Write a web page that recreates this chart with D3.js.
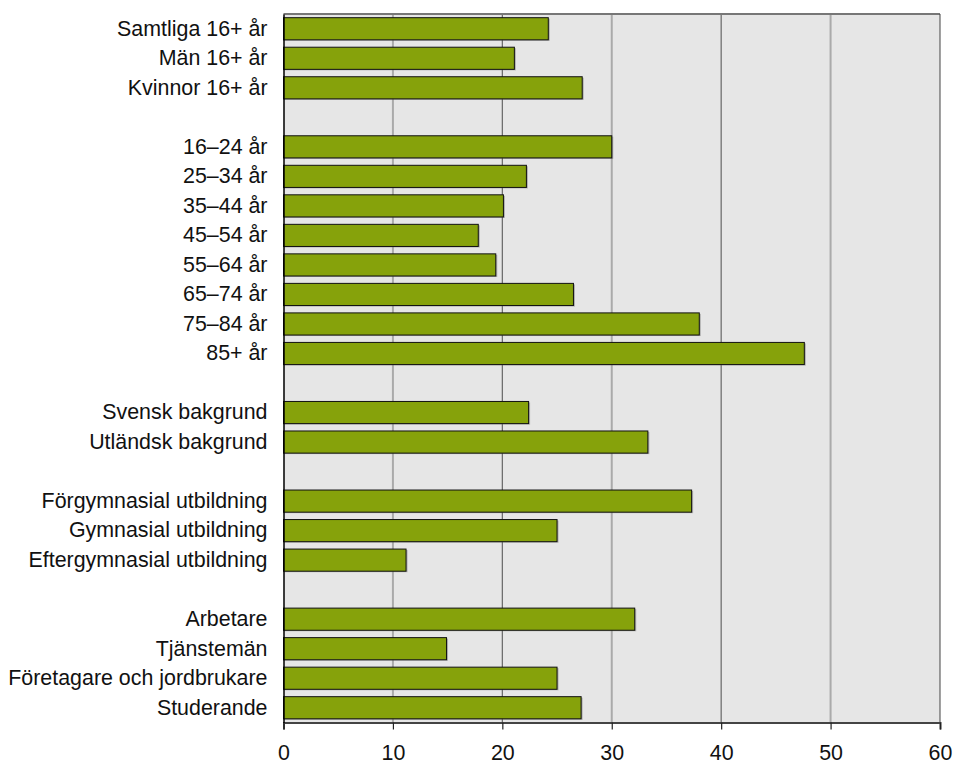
<!DOCTYPE html>
<html><head><meta charset="utf-8">
<script src="https://cdn.jsdelivr.net/npm/d3@7"></script>
<style>body{margin:0;background:#fff;}svg{display:block;font-family:"Liberation Sans",Arial,sans-serif;}</style>
</head><body><div id="chart"></div>
<script>
const categories = ["Samtliga 16+ år","Män 16+ år","Kvinnor 16+ år","",
 "16–24 år","25–34 år","35–44 år","45–54 år","55–64 år","65–74 år","75–84 år","85+ år","",
 "Svensk bakgrund","Utländsk bakgrund","",
 "Förgymnasial utbildning","Gymnasial utbildning","Eftergymnasial utbildning","",
 "Arbetare","Tjänstemän","Företagare och jordbrukare","Studerande"];
const values = [24.2,21.1,27.3,null,
 30.0,22.2,20.1,17.8,19.4,26.5,38.0,47.6,null,
 22.4,33.3,null,
 37.3,25.0,11.2,null,
 32.1,14.9,25.0,27.2];
const xTicks = [0,10,20,30,40,50,60];

const W=955,H=764, m={l:283.5,r:15,t:14,b:41.5};
const iw=W-m.l-m.r, ih=H-m.t-m.b;
const keys = categories.map((c,i)=>i);
const svg=d3.select("#chart").append("svg").attr("width",W).attr("height",H);
const g=svg.append("g").attr("transform",`translate(${m.l},${m.t})`);
const x=d3.scaleLinear().domain([0,60]).range([0,iw]);
const y=d3.scaleBand().domain(keys).range([0,ih]).paddingInner(0.25).paddingOuter(0.125);

g.append("rect").attr("width",iw).attr("height",ih).attr("fill","#e6e6e6");
g.selectAll(".grid").data(xTicks.slice(1,-1)).join("line")
 .attr("x1",d=>x(d)).attr("x2",d=>x(d)).attr("y1",0).attr("y2",ih)
 .attr("stroke",(d,i)=>i%2===0?"#aaaaaa":"#666666")
 .attr("stroke-width",(d,i)=>i%2===0?2:1.2);
// top & right border
g.append("line").attr("x1",0).attr("x2",iw).attr("y1",0).attr("y2",0).attr("stroke","#777").attr("stroke-width",2);
g.append("line").attr("x1",iw).attr("x2",iw).attr("y1",0).attr("y2",ih).attr("stroke","#444").attr("stroke-width",1);

const data = keys.filter(i=>values[i]!=null).map(i=>({k:i,v:values[i]}));
g.selectAll(".shadow").data(data).join("rect")
 .attr("x",0).attr("y",d=>y(d.k)+1).attr("width",d=>x(d.v)+1.5).attr("height",y.bandwidth())
 .attr("fill","#6a6a6a").attr("opacity",0.45);
g.selectAll(".bar").data(data).join("rect")
 .attr("x",0).attr("y",d=>y(d.k)).attr("width",d=>x(d.v)).attr("height",y.bandwidth())
 .attr("fill","#86a20b").attr("stroke","#111").attr("stroke-width",1);

// bottom axis
const xa=g.append("g").attr("transform",`translate(0,${ih})`)
 .call(d3.axisBottom(x).tickValues(xTicks).tickSize(7).tickPadding(15).tickFormat(d3.format("d")));
xa.select(".domain").attr("stroke","#444").attr("stroke-width",2);
xa.selectAll(".tick line").attr("stroke","#222").attr("stroke-width",1.2);
xa.selectAll("text").attr("font-size",21.4).attr("fill","#111").attr("font-family","'Liberation Sans',Arial,sans-serif");

// left axis
const ya=g.append("g").call(d3.axisLeft(y).tickSize(0).tickPadding(16).tickFormat(i=>categories[i]));
ya.select(".domain").attr("stroke","#000").attr("stroke-width",1.5);
ya.selectAll("text").attr("font-size",21.4).attr("fill","#111").attr("font-family","'Liberation Sans',Arial,sans-serif");
</script></body></html>
